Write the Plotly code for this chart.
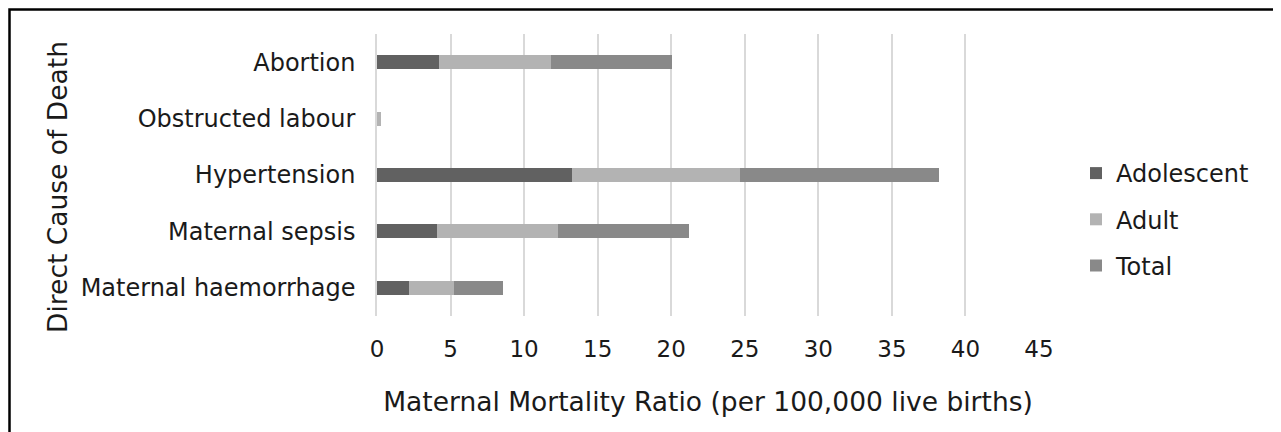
import plotly.graph_objects as go

categories = ["Abortion", "Obstructed labour", "Hypertension", "Maternal sepsis", "Maternal haemorrhage"]
adolescent = [4.2, 0.0, 13.25, 4.1, 2.2]
adult = [7.6, 0.25, 11.4, 8.2, 3.05]
total = [8.25, 0.0, 13.55, 8.9, 3.3]
x_ticks = [0, 5, 10, 15, 20, 25, 30, 35, 40, 45]

W, H = 1281, 432
OFF = 8  # page body margin
# desired plot area in window pixels
PL, PR, PT, PB = 377, 1039, 34, 316
ml = PL - OFF
mt = PT - OFF
pw, ph = PR - PL, PB - PT
mr = W - ml - pw
mb = H - mt - ph

FONT = "DejaVu Sans"

fig = go.Figure()
series = [("Adolescent", adolescent, "#616161"),
          ("Adult", adult, "#b3b3b3"),
          ("Total", total, "#898989")]
for name, vals, col in series:
    fig.add_trace(go.Bar(
        y=categories, x=vals, name=name, orientation="h",
        marker=dict(color=col, line=dict(width=0)),
        legendgroup=name,
    ))

def px_x(p):  # window px -> paper
    return (p - PL) / pw

def px_y(p):
    return (PB - p) / ph

fig.update_layout(
    width=W, height=H,
    margin=dict(l=ml, r=mr, t=mt, b=mb, autoexpand=False),
    barmode="stack",
    bargap=0.75,
    plot_bgcolor="white",
    paper_bgcolor="white",
    font=dict(family=FONT, size=23, color="#1a1a1a"),
    showlegend=True,
    legend=dict(
        x=px_x(1076), y=px_y(151), xanchor="left", yanchor="top",
        font=dict(family=FONT, size=24, color="#1a1a1a"),
        tracegroupgap=12, traceorder="grouped",
        itemwidth=30,
    ),
    xaxis=dict(
        range=[0, 45], tickvals=x_ticks, showgrid=True,
        gridcolor="#d9d9d9", gridwidth=1.5, zeroline=False,
        showline=False, ticks="", ticklabelstandoff=17,
        automargin=False,
        title=dict(text="Maternal Mortality Ratio (per 100,000 live births)",
                   standoff=31, font=dict(size=26.5)),
        tickfont=dict(size=23),
    ),
    yaxis=dict(
        autorange="reversed", showgrid=False, zeroline=False,
        showline=True, linecolor="#d9d9d9", linewidth=1.5,
        ticks="", ticklabelstandoff=15, automargin=False,
        tickfont=dict(size=24),
    ),
    annotations=[dict(
        text="Direct Cause of Death", textangle=-90,
        xref="paper", yref="paper", x=px_x(57), y=px_y(187),
        xanchor="center", yanchor="middle", showarrow=False,
        font=dict(family=FONT, size=26.5, color="#1a1a1a"),
    )],
    shapes=[dict(
        type="rect", xref="paper", yref="paper",
        x0=px_x(OFF + 1.5), x1=px_x(1279), y0=px_y(H + 40), y1=px_y(OFF + 1.5),
        line=dict(color="black", width=2.5), fillcolor="rgba(0,0,0,0)",
        layer="above",
    )],
)

fig.write_html("out.html")
